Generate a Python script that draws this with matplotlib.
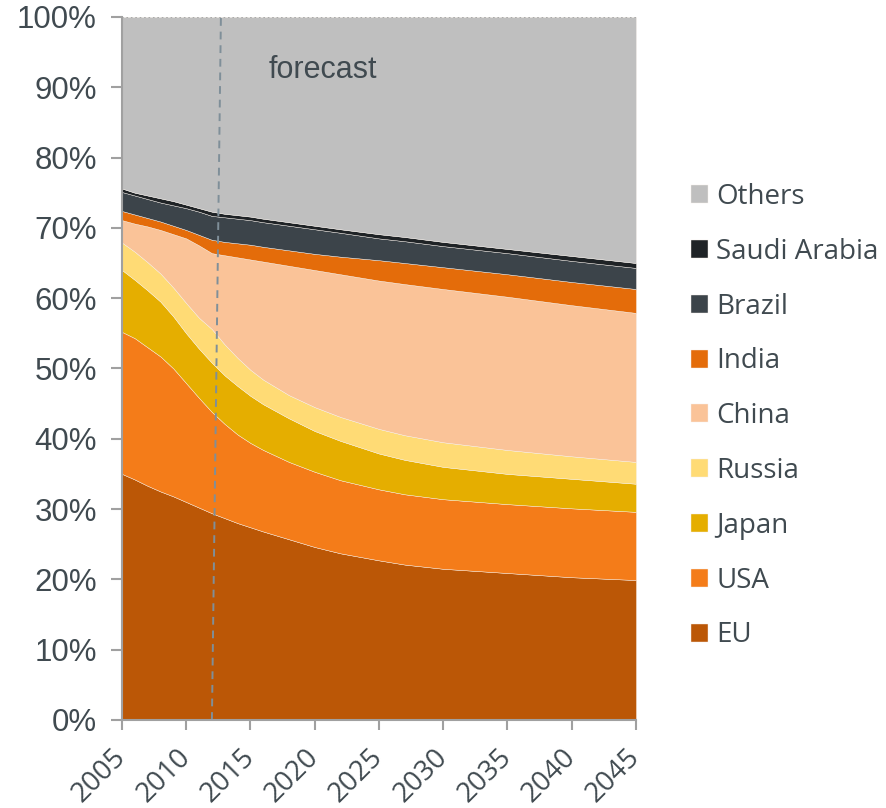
import matplotlib
matplotlib.use("Agg")
import matplotlib.pyplot as plt
from matplotlib.ticker import FuncFormatter

years = [2005, 2006, 2007, 2008, 2009, 2010, 2011, 2012,
         2013, 2014, 2015, 2016, 2018, 2020, 2022, 2025, 2027, 2030, 2035, 2040, 2045]

# shares in % of total, bottom to top
eu     = [35.0, 34.2, 33.3, 32.5, 31.8, 31.0, 30.2, 29.4,
          28.7, 28.0, 27.4, 26.8, 25.7, 24.6, 23.7, 22.7, 22.1, 21.5, 20.9, 20.3, 19.9]
usa    = [20.2, 20.1, 19.7, 19.2, 18.2, 16.9, 15.6, 14.4,
          13.4, 12.6, 12.0, 11.6, 11.0, 10.7, 10.4, 10.1, 10.0,  9.9,  9.8,  9.8,  9.7]
japan  = [ 8.8,  8.3,  8.1,  7.8,  7.4,  7.1,  7.0,  7.0,
           6.9,  6.9,  6.7,  6.5,  6.2,  5.8,  5.6,  5.1,  4.9,  4.6,  4.3,  4.2,  4.0]
russia = [ 3.9,  4.0,  4.0,  4.0,  4.1,  4.3,  4.4,  4.8,
           4.4,  4.0,  3.7,  3.5,  3.3,  3.4,  3.4,  3.5,  3.5,  3.5,  3.4,  3.2,  3.1]
china  = [ 3.2,  4.0,  5.1,  6.2,  7.6,  9.2, 10.3, 10.8,
          12.7, 14.3, 15.7, 16.8, 18.4, 19.5, 20.3, 21.1, 21.5, 21.8, 21.8, 21.5, 21.2]
india  = [ 1.3,  1.3,  1.2,  1.2,  1.2,  1.2,  1.5,  1.9,
           1.9,  2.0,  2.1,  2.1,  2.2,  2.3,  2.5,  2.9,  3.0,  3.1,  3.2,  3.3,  3.4]
brazil = [ 2.7,  2.7,  2.7,  2.7,  2.9,  3.1,  3.3,  3.4,
           3.5,  3.5,  3.5,  3.5,  3.5,  3.5,  3.4,  3.1,  3.1,  3.0,  3.0,  3.0,  3.0]
saudi  = [ 0.5,  0.4,  0.5,  0.6,  0.6,  0.5,  0.5,  0.6,
           0.5,  0.5,  0.5,  0.5,  0.5,  0.5,  0.5,  0.6,  0.6,  0.6,  0.6,  0.7,  0.7]
others = [24.4, 25.0, 25.4, 25.8, 26.2, 26.7, 27.2, 27.7,
          28.0, 28.2, 28.4, 28.7, 29.2, 29.7, 30.2, 30.9, 31.3, 32.0, 33.0, 34.0, 35.0]

labels = ["EU", "USA", "Japan", "Russia", "China", "India", "Brazil", "Saudi Arabia", "Others"]
colors = ["#BB5706", "#F47C19", "#E5AE00", "#FFDB75", "#FAC398", "#E46C0A", "#3C444A", "#1F2326", "#BFBFBF"]

txt = "#404A50"

fig = plt.figure(figsize=(8.87, 8.08), dpi=100)
ax = fig.add_axes([0.1375, 0.109, 0.5795, 0.870])

ax.stackplot(years, eu, usa, japan, russia, china, india, brazil, saudi, others,
             colors=colors, labels=labels, edgecolor="#f6f0ea", linewidth=0.3)

# forecast divider
ax.plot([2012.0, 2012.7], [0, 100], ls=(0, (4, 3)), color="#7F8F99", lw=1.4)
ax.text(2020.6, 92.5, "forecast", fontsize=22, color=txt, ha="center", va="center",
        family="Liberation Sans")
ax.axhline(100, ls=":", color="#A0A0A0", lw=1.2)

ax.set_xlim(2005, 2045)
ax.set_ylim(0, 100)
ax.set_xticks(range(2005, 2046, 5))
ax.set_yticks(range(0, 101, 10))
ax.yaxis.set_major_formatter(FuncFormatter(lambda v, p: "%d%%" % v))

for s in ["top", "right"]:
    ax.spines[s].set_visible(False)
for s in ["left", "bottom"]:
    ax.spines[s].set_color("#A0A0A0")
    ax.spines[s].set_linewidth(1.5)

ax.tick_params(axis="y", length=8, width=1.5, color="#A0A0A0", labelsize=22.5,
               labelcolor=txt, pad=10)
ax.tick_params(axis="x", length=7, width=1.5, color="#A0A0A0", labelsize=20,
               labelcolor=txt, pad=17)
for t in ax.get_yticklabels():
    t.set_family("Liberation Sans")
for t in ax.get_xticklabels():
    t.set_family("Open Sans")
    t.set_rotation(45)
    t.set_ha("right")
    t.set_va("center")
    t.set_rotation_mode("anchor")

handles, labs = ax.get_legend_handles_labels()
fig.legend(handles[::-1], labs[::-1], loc="center left", bbox_to_anchor=(0.766, 0.485),
           frameon=False, prop={"family": "Open Sans", "size": 20},
           handlelength=0.62, handleheight=0.62, handletextpad=0.3,
           labelspacing=0.965, labelcolor=txt, borderaxespad=0)

fig.savefig("out.png", dpi=100)
